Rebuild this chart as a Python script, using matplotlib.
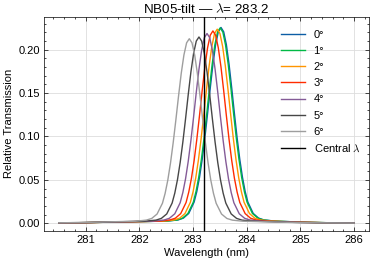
import matplotlib
matplotlib.use("Agg")
import matplotlib.pyplot as plt
from matplotlib.ticker import AutoMinorLocator, MultipleLocator

# ---- data ----
labels = ["0°", "1°", "2°", "3°", "4°", "5°", "6°"]
colors = ["#0C5DA5", "#00B945", "#FF9500", "#FF2C00", "#845B97", "#474747", "#9e9e9e"]
central_wl = 283.2

wl_0 = [280.5, 281.0, 281.5, 282.52, 282.72, 282.82, 282.92, 283.02, 283.07, 283.12, 283.17, 283.22, 283.27,
        283.32, 283.37, 283.42, 283.47, 283.52, 283.57, 283.62, 283.67, 283.72, 283.77, 283.82, 283.87,
        283.92, 283.97, 284.02, 284.12, 284.22, 284.32, 284.52, 285.0, 285.5, 286.0]
tr_0 = [0.0004, 0.0007, 0.0013, 0.0025, 0.0038, 0.0059, 0.0113, 0.0244, 0.0365, 0.0528, 0.0735, 0.0983, 0.1263,
        0.1556, 0.1831, 0.2057, 0.2205, 0.2255, 0.2205, 0.2057, 0.1831, 0.1556, 0.1263, 0.0983, 0.0735,
        0.0528, 0.0365, 0.0244, 0.0113, 0.0059, 0.0038, 0.0025, 0.0013, 0.0006, 0.0003]

wl_1 = [280.5, 281.0, 281.5, 282.505, 282.705, 282.805, 282.905, 283.005, 283.055, 283.105, 283.155, 283.205,
        283.255, 283.305, 283.355, 283.405, 283.455, 283.505, 283.555, 283.605, 283.655, 283.705, 283.755,
        283.805, 283.855, 283.905, 283.955, 284.005, 284.105, 284.205, 284.305, 284.505, 285.0, 285.5, 286.0]
tr_1 = [0.0004, 0.0007, 0.0013, 0.0025, 0.0038, 0.0059, 0.0113, 0.0243, 0.0365, 0.0527, 0.0734, 0.0981, 0.1260,
        0.1553, 0.1827, 0.2052, 0.2201, 0.2250, 0.2201, 0.2052, 0.1827, 0.1553, 0.1260, 0.0981, 0.0734,
        0.0527, 0.0365, 0.0243, 0.0113, 0.0059, 0.0038, 0.0025, 0.0013, 0.0006, 0.0003]

wl_2 = [280.5, 281.0, 281.5, 282.45, 282.65, 282.75, 282.85, 282.95, 283.00, 283.05, 283.10, 283.15, 283.20,
        283.25, 283.30, 283.35, 283.40, 283.45, 283.50, 283.55, 283.60, 283.65, 283.70, 283.75, 283.80,
        283.85, 283.90, 283.95, 284.05, 284.15, 284.25, 284.45, 285.0, 285.5, 286.0]
tr_2 = [0.0004, 0.0007, 0.0013, 0.0025, 0.0038, 0.0058, 0.0112, 0.0241, 0.0362, 0.0523, 0.0729, 0.0974, 0.1252,
        0.1542, 0.1815, 0.2038, 0.2186, 0.2235, 0.2186, 0.2038, 0.1815, 0.1542, 0.1252, 0.0974, 0.0729,
        0.0523, 0.0362, 0.0241, 0.0112, 0.0058, 0.0038, 0.0025, 0.0012, 0.0006, 0.0003]

wl_3 = [280.5, 281.0, 281.5, 282.37, 282.57, 282.67, 282.77, 282.87, 282.92, 282.97, 283.02, 283.07, 283.12,
        283.17, 283.22, 283.27, 283.32, 283.37, 283.42, 283.47, 283.52, 283.57, 283.62, 283.67, 283.72,
        283.77, 283.82, 283.87, 283.97, 284.07, 284.17, 284.37, 285.0, 285.5, 286.0]
tr_3 = [0.0004, 0.0007, 0.0013, 0.0024, 0.0038, 0.0058, 0.0111, 0.0239, 0.0359, 0.0518, 0.0722, 0.0966, 0.1240,
        0.1528, 0.1799, 0.2020, 0.2166, 0.2215, 0.2166, 0.2020, 0.1799, 0.1528, 0.1240, 0.0966, 0.0722,
        0.0518, 0.0359, 0.0239, 0.0111, 0.0058, 0.0038, 0.0024, 0.0011, 0.0005, 0.0003]

wl_4 = [280.5, 281.0, 281.5, 282.26, 282.46, 282.56, 282.66, 282.76, 282.81, 282.86, 282.91, 282.96, 283.01,
        283.06, 283.11, 283.16, 283.21, 283.26, 283.31, 283.36, 283.41, 283.46, 283.51, 283.56, 283.61,
        283.66, 283.71, 283.76, 283.86, 283.96, 284.06, 284.26, 285.0, 285.5, 286.0]
tr_4 = [0.0004, 0.0007, 0.0014, 0.0024, 0.0037, 0.0057, 0.0109, 0.0236, 0.0354, 0.0511, 0.0712, 0.0953, 0.1224,
        0.1508, 0.1774, 0.1993, 0.2137, 0.2185, 0.2137, 0.1993, 0.1774, 0.1508, 0.1224, 0.0953, 0.0712,
        0.0511, 0.0354, 0.0236, 0.0109, 0.0057, 0.0037, 0.0024, 0.0010, 0.0005, 0.0003]

wl_5 = [280.5, 281.0, 281.5, 282.11, 282.31, 282.41, 282.51, 282.61, 282.66, 282.71, 282.76, 282.81, 282.86,
        282.91, 282.96, 283.01, 283.06, 283.11, 283.16, 283.21, 283.26, 283.31, 283.36, 283.41, 283.46,
        283.51, 283.56, 283.61, 283.71, 283.81, 283.91, 284.11, 285.0, 285.5, 286.0]
tr_5 = [0.0005, 0.0008, 0.0015, 0.0024, 0.0036, 0.0056, 0.0107, 0.0232, 0.0347, 0.0502, 0.0699, 0.0935, 0.1201,
        0.1480, 0.1742, 0.1956, 0.2098, 0.2145, 0.2098, 0.1956, 0.1742, 0.1480, 0.1201, 0.0935, 0.0699,
        0.0502, 0.0347, 0.0232, 0.0107, 0.0056, 0.0036, 0.0024, 0.0008, 0.0004, 0.0002]

wl_6 = [280.5, 281.0, 281.5, 281.93, 282.13, 282.23, 282.33, 282.43, 282.48, 282.53, 282.58, 282.63, 282.68,
        282.73, 282.78, 282.83, 282.88, 282.93, 282.98, 283.03, 283.08, 283.13, 283.18, 283.23, 283.28,
        283.33, 283.38, 283.43, 283.53, 283.63, 283.73, 283.93, 285.0, 285.5, 286.0]
tr_6 = [0.0005, 0.0009, 0.0017, 0.0023, 0.0036, 0.0055, 0.0106, 0.0230, 0.0344, 0.0497, 0.0693, 0.0927, 0.1190,
        0.1466, 0.1726, 0.1938, 0.2078, 0.2125, 0.2078, 0.1938, 0.1726, 0.1466, 0.1190, 0.0927, 0.0693,
        0.0497, 0.0344, 0.0230, 0.0106, 0.0055, 0.0036, 0.0023, 0.0007, 0.0004, 0.0002]

wavelengths = [wl_0, wl_1, wl_2, wl_3, wl_4, wl_5, wl_6]
transmissions = [tr_0, tr_1, tr_2, tr_3, tr_4, tr_5, tr_6]

# ---- style ----
plt.rcParams["font.family"] = ["Liberation Sans", "DejaVu Sans"]
plt.rcParams["mathtext.fontset"] = "cm"
plt.rcParams["font.size"] = 8

fig = plt.figure(figsize=(3.74, 2.66), dpi=100)
ax = fig.add_axes([0.1176, 0.133, 0.869, 0.803])

for wl, tr, lab, col in zip(wavelengths, transmissions, labels, colors):
    ax.plot(wl, tr, color=col, lw=1.0, label=lab)

ax.axvline(central_wl, color="black", lw=1.0, label=r"Central $\lambda$")

ax.set_xlim(280.225, 286.275)
ax.set_ylim(-0.0085, 0.2375)
ax.xaxis.set_major_locator(MultipleLocator(1))
ax.yaxis.set_major_locator(MultipleLocator(0.05))
ax.xaxis.set_minor_locator(AutoMinorLocator(5))
ax.yaxis.set_minor_locator(AutoMinorLocator(5))
ax.tick_params(which="both", direction="in", top=True, right=True)
ax.tick_params(which="major", length=3, width=0.5, pad=3)
ax.tick_params(which="minor", length=1.5, width=0.5)
for s in ax.spines.values():
    s.set_linewidth(0.5)
ax.grid(True, which="major", color="#dddddd", lw=0.6)
ax.set_axisbelow(True)

ax.set_xlabel("Wavelength (nm)", labelpad=2)
ax.set_ylabel("Relative Transmission", labelpad=3)
ax.set_title(r"NB05-tilt — $\lambda$= 283.2", pad=3)

ax.legend(loc="upper right", bbox_to_anchor=(1.005, 0.988), frameon=False,
          handlelength=2.1, handletextpad=0.8, labelspacing=0.56, borderaxespad=0.5)

fig.savefig("out.png", dpi=100)
